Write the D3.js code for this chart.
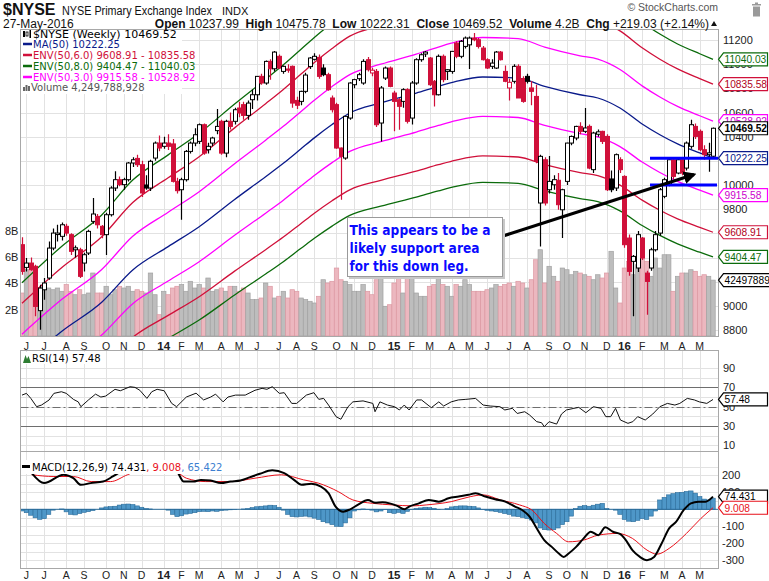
<!DOCTYPE html>
<html>
<head>
<meta charset="utf-8">
<script src="https://cdn.jsdelivr.net/npm/d3@7"></script>
<style>
  body { margin: 0; background: #fff; }
  svg { font-family: "Liberation Sans", Arial, sans-serif; }
</style>
</head>
<body>
<svg id="chart" width="769" height="581"></svg>
<script>
// weekly bars, week ending 31-May-2013 .. 27-May-2016
var open = [
9506,9318,9354,9327,8960,9133,9230,9478,9590,9575,
9658,9589,9464,9464,9354,9437,9699,9740,9658,9589,
9754,9975,10044,10003,10044,10182,10220,10168,10000,9975,
10223,10347,10320,10347,10340,10030,9961,10044,10278,10347,
10361,10499,10292,10347,10450,10527,10264,10527,10527,10637,
10665,10576,10706,10747,10899,10844,11023,10962,11065,10940,
10960,10982,10700,10692,10775,10980,11040,11056,10968,10913,
10720,10665,10306,10223,10554,10830,10880,10844,11037,10927,
10940,10513,10885,10968,10761,10706,10692,10789,10554,10844,
11037,11084,11051,10858,10747,11065,10940,10940,11175,11065,
11147,11160,11216,11202,11133,11037,10982,10968,11100,10940,
10803,10858,10982,10880,10899,10803,10733,9851,10209,9961,
10002,10039,9795,10030,10347,10389,10485,10444,10485,10127,
10420,10444,10402,10050,9975,10209,10071,9561,9368,9313,
9561,9271,9313,9464,9602,9906,10002,10209,10099,10209,
10140,10320,10485,10444,10292,10251,10237.99];

var high = [
9567,9396,9400,9340,9175,9230,9533,9640,9671,9690,
9680,9600,9500,9480,9440,9630,9892,9760,9670,9770,
9990,10113,10070,10060,10190,10230,10250,10200,10080,10210,
10360,10410,10400,10420,10380,10060,10060,10290,10360,10470,
10510,10510,10350,10400,10630,10540,10540,10600,10640,10690,
10690,10700,10790,10900,10920,11030,11040,11110,11080,10990,
11000,10990,10730,10780,10930,11060,11090,11080,11000,10930,
10740,10680,10310,10570,10850,10880,10930,11040,11060,10970,
10960,10820,10980,10980,10780,10720,10800,10800,10860,11050,
11090,11110,11060,10870,11080,11080,10960,11110,11190,11200,
11230,11230,11258,11216,11150,11050,11040,11110,11110,10990,
10880,11000,11000,10900,10920,10860,10830,10250,10230,10240,
10080,10100,9970,10350,10410,10490,10520,10637,10500,10440,
10460,10450,10420,10120,10260,10230,10080,9590,9420,9620,
9570,9290,9480,9620,9975,10060,10220,10220,10230,10230,
10360,10540,10510,10460,10330,10350,10475.78];

var low = [
9258,9285,9290,8913,8802,9050,9216,9460,9533,9540,
9580,9420,9400,9230,9285,9420,9680,9640,9560,9420,
9740,9950,9990,9960,10030,10150,10150,9900,9960,9950,
10200,10280,10300,10290,10020,9930,9713,10030,10260,10320,
10340,10250,10260,10320,10420,10250,10230,10460,10500,10560,
10540,10540,10630,10700,10830,10830,10872,10940,10960,10920,
10930,10640,10630,10660,10760,10960,11030,10880,10900,10780,
10600,10300,9878,10210,10540,10800,10860,10830,10940,10900,
10480,10361,10870,10810,10444,10458,10640,10510,10500,10830,
11020,11060,10820,10650,10740,10850,10870,10920,11050,11050,
11130,10960,11190,11130,11030,10960,10960,10960,11030,10850,
10700,10840,10720,10680,10840,10660,10180,9492,9830,9930,
9960,9795,9561,10000,10330,10370,10420,10430,10130,10100,
10400,10340,9950,9940,9950,10100,9480,9250,8913,9280,
9380,8926,9290,9450,9580,9890,9990,10050,10090,10080,
10120,10300,10380,10280,10210,10110,10222.31];

var close = [
9285,9354,9299,8995,9147,9189,9478,9602,9602,9671,
9602,9451,9480,9244,9423,9616,9760,9671,9589,9754,
9975,10044,10003,10044,10182,10209,10168,9934,9975,10196,
10347,10306,10347,10320,10030,9953,10044,10278,10347,10416,
10499,10264,10320,10389,10485,10264,10527,10485,10623,10596,
10576,10678,10747,10899,10844,11023,10962,11100,10968,10982,
10950,10678,10660,10775,10910,11051,11065,10899,10913,10789,
10623,10306,10237,10568,10844,10872,10913,11023,10954,10950,
10499,10803,10968,10816,10692,10651,10789,10527,10844,11037,
11078,11100,10830,10747,11065,10872,10954,11106,11065,11189,
11216,11216,11202,11147,11037,10968,11009,11100,11037,10858,
10850,10982,10720,10692,10858,10775,10196,10237,9851,10030,
10044,9837,9961,10347,10402,10485,10444,10472,10140,10430,
10440,10361,9961,9961,10251,10127,9506,9285,9409,9589,
9396,9202,9464,9589,9961,10044,10209,10071,10209,10099,
10347,10499,10402,10292,10251,10266,10469.52];

// volume, billions of shares
var volume = [
3.27,5.04,5.04,3.65,3.65,3.91,3.65,3.52,3.65,3.40,
3.91,3.40,3.14,3.52,3.14,3.27,4.79,3.27,3.27,3.78,
3.14,3.52,3.78,3.65,3.78,3.40,3.52,3.40,3.27,4.79,
3.14,1.62,3.40,3.14,3.65,3.78,3.91,3.40,4.16,3.65,
3.91,3.65,4.41,3.40,3.52,3.65,3.40,3.78,3.78,3.40,
3.65,3.27,2.77,2.77,2.89,4.03,3.78,2.89,3.02,3.40,
2.89,3.52,3.40,2.89,2.77,2.64,2.51,3.02,4.28,4.03,
4.16,5.17,4.28,4.16,3.91,3.40,3.40,3.91,3.40,3.14,
4.28,4.66,2.26,2.38,4.03,4.41,3.27,4.41,4.41,3.27,
3.02,3.02,3.78,3.91,4.41,3.91,3.78,3.02,3.91,3.78,
4.28,3.91,3.40,3.40,3.40,3.52,3.65,3.91,3.78,3.91,
4.03,3.78,4.16,4.03,3.65,4.28,5.80,6.56,4.03,5.30,
4.54,4.16,5.17,5.04,4.66,4.92,4.79,4.66,4.54,4.28,
4.66,4.41,4.79,6.44,3.65,2.51,5.17,5.68,4.66,5.42,
5.93,5.68,4.54,5.93,5.17,6.18,6.18,3.40,4.54,4.79,
4.79,5.04,4.92,4.54,4.66,4.54,4.249788928];

// MA(50): [bar, value]
var ma50 = [[0,8510],[9,8790],[18,9030],[25,9297],[33,9490],[40,9655],[48,9880],
  [55,10069],[59,10180],[63,10300],[66,10390],[70,10500],[74,10596],[81,10679],
  [89,10761],[94,10817],[98,10858],[104,10894],[112,10885],[118,10817],[126,10747],
  [130,10720],[135,10637],[140,10505],[144,10416],[148,10340],[153,10265],[156,10222.25]];

var envelopes = [
  {pct: 8, color: "#0b6b0b"},
  {pct: 6, color: "#d0103a"},
  {pct: 3, color: "#ff00ff"}
];

// RSI(14): [bar, value]
var rsi = [[0,62],[1,63.8],[2,58.6],[3.3,50],[4.4,51.7],[6.1,56.9],[7.2,63.8],[8.9,65.5],[10,63.8],
  [11.6,57.6],[12.7,55],[13.3,50],[15,57],[16.6,63],[17.8,60],[18.9,61],[21,68],[22.2,66.5],
  [24.4,70.7],[25.5,70],[26.6,67],[28.2,58.6],[29.3,65.5],[30.5,68],[32.1,66.5],[33.8,53.4],
  [34.9,50],[37.1,60],[39.3,64],[41,57],[42.6,60],[43.7,63],[45.4,55],[46.5,60],[48.2,62],
  [50.4,62],[52.6,67],[54.2,69],[55.3,68],[56.5,70.7],[58.1,63.8],[59.2,64.5],[60.9,53.4],
  [62,53.4],[64.2,62],[65.9,64.5],[67,57.6],[68.1,58.6],[69.2,51.7],[70.9,39.7],[72,37],
  [73.6,50],[74.7,55],[77,56],[79.2,53.4],[79.7,44.8],[80.8,55],[82.5,51.7],[84.1,50],
  [85.2,46.6],[86.3,51.7],[87.4,46.6],[89.1,57],[90.2,57],[92.4,49],[94.1,55],[95.2,50.7],
  [96.9,55],[98.5,57],[100.2,57.6],[102.4,58.6],[104.1,51.7],[105.7,50.7],[107.9,50],
  [109,46.6],[110.7,48.3],[111.8,43],[113.5,44.8],[114.6,41.4],[116.2,34.5],[117.3,33.4],
  [117.9,29.3],[119,34.5],[120.7,32],[121.8,42.4],[122.9,46.6],[124.6,48.3],[125.7,49.3],
  [127.3,43.8],[129,50],[130.7,48.3],[131.8,39.7],[132.9,39.7],[134,48.3],[135.1,36.2],
  [136.8,32.8],[137.9,34.5],[139,39.7],[140.7,36.2],[142.4,42.4],[144,50],[145.7,53.4],
  [147.4,51.7],[148.5,53.4],[150.2,58.6],[151.8,57],[152.9,55],[154.6,53.4],[156,57.48]];

// MACD(12,26,9): [bar, value]
var macdLine = [[2.2,213],[5,154],[9.4,203],[11.6,183],[13.3,144],[15.5,154],[18.3,163],
  [20.5,193],[22.7,229],[24,250],[28,272],[32,260],[35,222],[36.5,163],[38.7,163],[40.4,173],
  [42.6,169],[44.9,154],[47.1,163],[49.3,169],[51.5,189],[53.7,209],[56.5,229],[59.2,213],
  [61.4,173],[63.1,144],[65.3,150],[67.5,134],[69.2,95],[70.8,16],[72.5,-14],[74.1,0],
  [75.8,26],[78.1,55],[79.7,39],[81.4,41],[83,35],[84.7,20],[86.3,0],[87.4,16],[89.6,35],
  [91.8,55],[94.1,45],[96.3,65],[98.6,75],[100.8,85],[102.4,95],[104.6,75],[106.8,59],
  [109.1,45],[111.3,16],[112.9,-4],[114.6,-43],[116.2,-112],[117.9,-181],[119.6,-221],
  [121.2,-260],[122.3,-280],[123.4,-260],[125.1,-221],[126.8,-171],[128.4,-132],[130.1,-152],
  [131.7,-106],[133.4,-132],[135.1,-146],[136.2,-177],[137.8,-240],[139.5,-280],[141.1,-299],
  [142.7,-280],[144.4,-201],[146.1,-112],[147.7,-73],[149.4,-4],[151,35],[152.7,45],
  [154.3,45],[156,74.431]];

var signalLine = [[2.2,203],[7.2,193],[11.6,193],[15.6,163],[20,163],[23.8,203],[26,223],
  [35,213],[37.1,183],[41.5,163],[47.1,163],[52.6,183],[58.6,203],[63.6,173],[66.9,154],
  [71.4,104],[74.7,55],[79.2,35],[83.6,26],[88.1,20],[91.4,26],[96.9,45],[101.3,75],
  [104.1,85],[108,55],[112.3,26],[115.1,-4],[117.9,-83],[120.7,-142],[123.4,-191],
  [126.8,-181],[130.1,-152],[134.5,-142],[137.8,-171],[141.1,-240],[143.4,-264],
  [146.1,-230],[150,-142],[153.3,-53],[156,9.008]];

var histogram = [
-10,-20,-35,-50,-59,-55,-30,-5,0,2,
-15,-30,-33,-25,-18,-14,-8,0,8,14,
16,18,25,30,31,28,20,12,5,2,
0,0,0,-5,-30,-43,-38,-28,-24,-20,
-14,-12,-14,-10,-12,-8,-5,-3,-2,0,
2,5,10,15,18,20,24,22,12,-5,
-30,-43,-45,-42,-40,-45,-52,-60,-73,-80,
-90,-100,-102,-80,-50,-10,-3,2,-2,-5,
-15,-10,-2,-20,-24,-18,-24,-12,-2,5,
8,12,10,6,-2,0,4,14,18,20,
20,18,16,8,-2,-6,-10,-14,-18,-25,
-30,-40,-43,-48,-55,-63,-80,-110,-120,-122,
-120,-110,-90,-73,-40,5,18,22,18,24,
30,35,5,0,-5,-30,-60,-70,-73,-65,
-55,-60,-40,-10,55,70,85,92,98,100,
105,108,95,75,60,55,65.422];

var priceTicks = d3.range(8800, 11201, 200);
var volTicks = [2, 4, 6, 8];
var rsiTicks = [10, 30, 50, 70, 90];
var macdTicks = [-300, -200, -100, 100, 200];
var monthLetters = "JFMAMJJASOND";

var svg = d3.select("#chart");
var RED = "#d0103a", GREEN = "#0b6b0b", MAG = "#ff00ff", NAVY = "#0a1a8a";

var x = d3.scaleLinear().domain([0, 156]).range([22, 713]);
var yP = d3.scaleLinear().domain([8800, 11200]).range([330, 40]);
var yV = d3.scaleLinear().domain([0, 8]).range([336, 230.8]);
var yR = d3.scaleLinear().domain([0, 100]).range([455, 358.4]);
var yM = d3.scaleLinear().domain([-300, 200]).range([560.3, 475.3]);

var L = 20.5, R = 718.5;
var panels = {
  main: {top: 29.5, bottom: 336.5},
  rsi: {top: 350.5, bottom: 451.5},
  macd: {top: 451.5, bottom: 568.5}
};

var dates = d3.timeFriday.range(new Date(2013, 4, 31), new Date(2016, 4, 28));
// month ticks: first bar whose week starts in a new month
var ticks = [];
dates.forEach(function (d, i) {
  if (i === 0) return;
  var m0 = d3.timeDay.offset(dates[i - 1], -4).getMonth();
  var m1 = d3.timeDay.offset(d, -4);
  if (m1.getMonth() !== m0) ticks.push({i: i, date: m1});
});

var defs = svg.append("defs");
Object.keys(panels).forEach(function (k) {
  var p = panels[k];
  defs.append("clipPath").attr("id", "clip-" + k)
    .append("rect").attr("x", L).attr("y", p.top).attr("width", R - L).attr("height", p.bottom - p.top);
});
defs.append("marker").attr("id", "arrowhead").attr("viewBox", "0 0 10 10")
  .attr("refX", 8).attr("refY", 5).attr("markerWidth", 4).attr("markerHeight", 4)
  .attr("orient", "auto")
  .append("path").attr("d", "M0,0 L10,5 L0,10 z").attr("fill", "#000");

// panel frames + grids
Object.keys(panels).forEach(function (k) {
  var p = panels[k];
  var g = svg.append("g").attr("shape-rendering", "crispEdges");
  g.append("rect").attr("x", L).attr("y", p.top).attr("width", R - L).attr("height", p.bottom - p.top)
    .attr("fill", "#fff");
  g.selectAll(".vg").data(ticks).enter().append("line")
    .attr("x1", function (d) { return Math.round(x(d.i)) + 0.5; })
    .attr("x2", function (d) { return Math.round(x(d.i)) + 0.5; })
    .attr("y1", p.top).attr("y2", p.bottom).attr("stroke", "#e2e2e2");
  var hs = k === "main" ? priceTicks.map(yP) :
           k === "rsi" ? d3.range(10, 100, 10).map(yR) :
           d3.range(-300, 251, 50).map(yM);
  g.selectAll(".hg").data(hs).enter().append("line")
    .attr("x1", L).attr("x2", R)
    .attr("y1", function (d) { return Math.round(d) + 0.5; })
    .attr("y2", function (d) { return Math.round(d) + 0.5; })
    .attr("stroke", "#e2e2e2");
});

var bars = d3.range(close.length).map(function (i) {
  return {i: i, o: open[i], h: high[i], l: low[i], c: close[i], v: volume[i],
    up: i ? close[i] >= close[i - 1] : close[i] >= open[i]};
});

// ---- main panel ----
var main = svg.append("g").attr("clip-path", "url(#clip-main)");

main.append("g").selectAll("rect").data(bars).enter().append("rect")
  .attr("x", function (d) { return x(d.i) - 2.2; })
  .attr("width", 4.43)
  .attr("y", function (d) { return yV(d.v); })
  .attr("height", function (d) { return yV(0) - yV(d.v); })
  .attr("fill", function (d) { return d.up ? "#bdbdbd" : "#ecb7bf"; })
  .attr("stroke", function (d) { return d.up ? "#a2a2a2" : "#dc98a2"; })
  .attr("stroke-width", 0.7);

var curve = d3.line().curve(d3.curveMonotoneX)
  .x(function (d) { return x(d[0]); }).y(function (d) { return yP(d[1]); });

envelopes.forEach(function (e) {
  [1 + e.pct / 100, 1 - e.pct / 100].forEach(function (f) {
    main.append("path")
      .attr("d", curve(ma50.map(function (d) { return [d[0], d[1] * f]; })))
      .attr("fill", "none").attr("stroke", e.color).attr("stroke-width", 1.3);
  });
});
main.append("path").attr("d", curve(ma50))
  .attr("fill", "none").attr("stroke", NAVY).attr("stroke-width", 1.3);

var cg = main.append("g").selectAll("g").data(bars).enter().append("g");
cg.append("line")
  .attr("x1", function (d) { return Math.round(x(d.i)) + 0.5; })
  .attr("x2", function (d) { return Math.round(x(d.i)) + 0.5; })
  .attr("y1", function (d) { return yP(d.h); })
  .attr("y2", function (d) { return yP(d.l); })
  .attr("stroke", function (d) { return d.up ? "#000" : RED; })
  .attr("stroke-width", 1.2);
cg.append("rect")
  .attr("x", function (d) { return Math.round(x(d.i)) - 1.5; })
  .attr("width", 4)
  .attr("y", function (d) { return yP(Math.max(d.o, d.c)); })
  .attr("height", function (d) { return Math.max(1, Math.abs(yP(d.o) - yP(d.c))); })
  .attr("fill", function (d) { return d.c >= d.o ? "#fff" : (d.up ? "#000" : RED); })
  .attr("stroke", function (d) { return d.up ? "#000" : RED; })
  .attr("stroke-width", 1);

// annotations
var ann = svg.append("g");
[10222.25, 10000].forEach(function (v, k) {
  ann.append("line").attr("x1", 650).attr("x2", k ? 717 : 719)
    .attr("y1", yP(v)).attr("y2", yP(v))
    .attr("stroke", "#0000ff").attr("stroke-width", 3);
});
ann.append("line").attr("x1", 503).attr("y1", 236).attr("x2", 694).attr("y2", 174.5)
  .attr("stroke", "#000").attr("stroke-width", 3.2).attr("marker-end", "url(#arrowhead)");
ann.append("rect").attr("x", 349).attr("y", 219).attr("width", 156).attr("height", 60)
  .attr("fill", "#c8c8c8");
ann.append("rect").attr("x", 347.5).attr("y", 217.5).attr("width", 155).attr("height", 59)
  .attr("fill", "#fff").attr("stroke", "#9a9a9a");
var noteLines = ["This appears to be a", "likely support area", "for this down leg."];
var noteWidths = [141, 130, 119];
noteLines.forEach(function (t, k) {
  ann.append("text").attr("x", 349.5).attr("y", 234.5 + k * 18)
    .attr("font-family", "'DejaVu Sans', Verdana, sans-serif").attr("font-weight", "bold")
    .attr("font-size", 13.5).attr("fill", "#0a0aff")
    .attr("textLength", noteWidths[k]).attr("lengthAdjust", "spacingAndGlyphs")
    .text(t);
});

// main legend
var lg = svg.append("g").attr("font-family", "'DejaVu Sans', Verdana, sans-serif");
lg.append("rect").attr("x", 21).attr("y", 30).attr("width", 161).attr("height", 64).attr("fill", "#fff");
// candle icon
lg.append("rect").attr("x", 23).attr("y", 31).attr("width", 2).attr("height", 6).attr("fill", "#000");
lg.append("rect").attr("x", 26).attr("y", 32).attr("width", 2).attr("height", 4).attr("fill", "none").attr("stroke", "#000").attr("stroke-width", 0.8);
lg.append("rect").attr("x", 29.5).attr("y", 30).attr("width", 1.5).attr("height", 8).attr("fill", "#000");
lg.append("text").attr("x", 33).attr("y", 37.5).attr("font-size", 11).attr("fill", "#000")
  .text("$NYSE (Weekly) 10469.52");
var legendRows = [
  {t: "MA(50) 10222.25", c: NAVY},
  {t: "ENV(50,6.0) 9608.91 - 10835.58", c: RED},
  {t: "ENV(50,8.0) 9404.47 - 11040.03", c: GREEN},
  {t: "ENV(50,3.0) 9915.58 - 10528.92", c: MAG}
];
legendRows.forEach(function (r, k) {
  var yy = 47.5 + k * 11;
  lg.append("line").attr("x1", 23).attr("x2", 32).attr("y1", yy - 3.5).attr("y2", yy - 3.5)
    .attr("stroke", r.c).attr("stroke-width", 2.5);
  lg.append("text").attr("x", 33).attr("y", yy).attr("font-size", 10).attr("fill", r.c).text(r.t);
});
[[23, 4], [25.5, 6], [28, 5]].forEach(function (b) {
  lg.append("rect").attr("x", b[0]).attr("y", 91 - b[1]).attr("width", 2).attr("height", b[1]).attr("fill", "#666");
});
lg.append("text").attr("x", 31).attr("y", 91).attr("font-size", 10).attr("fill", "#555")
  .text("Volume 4,249,788,928");

// ---- RSI panel ----
var rg = svg.append("g").attr("clip-path", "url(#clip-rsi)");
[70, 30].forEach(function (v) {
  rg.append("line").attr("x1", L).attr("x2", R).attr("y1", Math.round(yR(v)) + 0.5).attr("y2", Math.round(yR(v)) + 0.5)
    .attr("stroke", "#6e6e6e").attr("stroke-width", 1.2);
});
rg.append("line").attr("x1", L).attr("x2", R).attr("y1", Math.round(yR(50)) + 0.5).attr("y2", Math.round(yR(50)) + 0.5)
  .attr("stroke", "#6e6e6e").attr("stroke-dasharray", "8,3,2,3");
rg.append("path")
  .attr("d", d3.line().x(function (d) { return x(d[0]); }).y(function (d) { return yR(d[1]); })(rsi))
  .attr("fill", "none").attr("stroke", "#111").attr("stroke-width", 1);
rg.append("rect").attr("x", 21).attr("y", 352).attr("width", 80).attr("height", 12).attr("fill", "#fff");
rg.append("path").attr("d", "M23,363 L25.5,355 L27,359 L28.5,356 L31,363 Z").attr("fill", "#2e7d32");
rg.append("text").attr("x", 32).attr("y", 361.5).attr("font-family", "'DejaVu Sans', Verdana, sans-serif")
  .attr("font-size", 10).text("RSI(14) 57.48");

// ---- MACD panel ----
var mg = svg.append("g").attr("clip-path", "url(#clip-macd)");
mg.append("g").selectAll("rect").data(histogram).enter().append("rect")
  .attr("x", function (d, i) { return x(i) - 2.2; })
  .attr("width", 4.43)
  .attr("y", function (d) { return Math.min(yM(d), yM(0)); })
  .attr("height", function (d) { return Math.abs(yM(d) - yM(0)); })
  .attr("fill", "#4e97c8").attr("stroke", "#2a6c9a").attr("stroke-width", 0.6);
mg.append("line").attr("x1", L).attr("x2", R).attr("y1", yM(0)).attr("y2", yM(0))
  .attr("stroke", "#2a6c9a").attr("stroke-width", 1);
var mline = d3.line().curve(d3.curveMonotoneX)
  .x(function (d) { return x(d[0]); }).y(function (d) { return yM(d[1]); });
mg.append("path").attr("d", mline(signalLine)).attr("fill", "none").attr("stroke", "#e8101a").attr("stroke-width", 1);
mg.append("path").attr("d", mline(macdLine)).attr("fill", "none").attr("stroke", "#000").attr("stroke-width", 2);
mg.append("rect").attr("x", 21).attr("y", 460).attr("width", 235).attr("height", 14).attr("fill", "#fff");
mg.append("line").attr("x1", 22).attr("x2", 30).attr("y1", 466.5).attr("y2", 466.5).attr("stroke", "#000").attr("stroke-width", 3);
var mt = mg.append("text").attr("x", 32).attr("y", 470.5)
  .attr("font-family", "'DejaVu Sans', Verdana, sans-serif").attr("font-size", 10);
mt.append("tspan").attr("fill", "#000").text("MACD(12,26,9) 74.431");
mt.append("tspan").attr("fill", "#e8101a").text(", 9.008");
mt.append("tspan").attr("fill", "#3d7fd0").text(", 65.422");

// panel borders
Object.keys(panels).forEach(function (k) {
  var p = panels[k];
  svg.append("rect").attr("x", L).attr("y", p.top).attr("width", R - L).attr("height", p.bottom - p.top)
    .attr("fill", "none").attr("stroke", "#a8a8a8").attr("shape-rendering", "crispEdges");
});

// ---- axes labels ----
var ax = svg.append("g").attr("font-size", 11).attr("fill", "#222");
ax.selectAll(".pt").data(priceTicks).enter().append("text")
  .attr("x", 723).attr("y", function (d) { return yP(d) + 4; }).text(function (d) { return d; });
ax.selectAll(".vt").data(volTicks).enter().append("text")
  .attr("x", 5).attr("y", function (d) { return yV(d) + 4; }).text(function (d) { return d + "B"; });
ax.selectAll(".rt").data(rsiTicks).enter().append("text")
  .attr("x", 723).attr("y", function (d) { return yR(d) + 4; }).text(function (d) { return d; });
ax.selectAll(".mt").data(macdTicks).enter().append("text")
  .attr("x", 722).attr("y", function (d) { return yM(d) + 4; }).text(function (d) { return d; });

[349.5, 579].forEach(function (yy) {
  ax.selectAll(null).data(ticks).enter().append("text")
    .attr("x", function (d) { return x(d.i); })
    .attr("y", yy).attr("text-anchor", "middle")
    .attr("font-weight", function (d) { return d.date.getMonth() === 0 ? "bold" : "normal"; })
    .attr("font-size", function (d) { return d.date.getMonth() === 0 ? 11.5 : 10.5; })
    .text(function (d) {
      return d.date.getMonth() === 0 ? String(d.date.getFullYear()).slice(2) : monthLetters[d.date.getMonth()];
    });
});

// value tags on right axis
function tag(y, label, border, color, bold, wide) {
  var g = svg.append("g");
  var h = 6.5, x0 = 718.5, x1 = 723.5, x2 = wide ? 772 : 767.5;
  g.append("path")
    .attr("d", "M" + x0 + "," + y + " L" + x1 + "," + (y - h) + " L" + x2 + "," + (y - h) +
      " L" + x2 + "," + (y + h) + " L" + x1 + "," + (y + h) + " Z")
    .attr("fill", "#fff").attr("stroke", border).attr("stroke-width", 1.2);
  g.append("text").attr("x", 724.5).attr("y", y + 3.8).attr("font-size", 10.2)
    .attr("font-weight", bold ? "bold" : "normal").attr("fill", color).text(label);
}
tag(yP(11040.03), "11040.03", GREEN, GREEN);
tag(yP(10835.58), "10835.58", RED, "#b00020");
tag(yP(10528.92), "10528.92", MAG, "#cc00cc");
tag(yP(10222.25), "10222.25", NAVY, NAVY);
tag(yP(9915.58), "9915.58", MAG, "#cc00cc");
tag(yP(9608.91), "9608.91", RED, "#b00020");
tag(yP(9404.47), "9404.47", GREEN, GREEN);
tag(yV(4.249788928), "42497889", "#000", "#000", false, true);
tag(yP(10469.52), "10469.52", "#000", "#000", true);
tag(yR(57.48), "57.48", "#000", "#000");
tag(yM(74.431), "74.431", "#000", "#000");
tag(yM(9.008), "9.008", "#e8101a", "#e8101a");

// ---- header ----
var hd = svg.append("g").attr("fill", "#111");
hd.append("text").attr("x", 3).attr("y", 15).attr("font-size", 16).attr("font-weight", "bold").text("$NYSE");
hd.append("text").attr("x", 62).attr("y", 15).attr("font-size", 12)
  .attr("textLength", 150).attr("lengthAdjust", "spacingAndGlyphs").text("NYSE Primary Exchange Index");
hd.append("text").attr("x", 222).attr("y", 15).attr("font-size", 11).text("INDX");
hd.append("text").attr("x", 3).attr("y", 28).attr("font-size", 12).text("27-May-2016");
var info = hd.append("text").attr("x", 709).attr("y", 28).attr("text-anchor", "end").attr("font-size", 12);
[["Open", " 10237.99  "], ["High", " 10475.78  "], ["Low", " 10222.31  "], ["Close", " 10469.52  "],
 ["Volume", " 4.2B  "], ["Chg", " +219.03 (+2.14%)"]].forEach(function (p) {
  info.append("tspan").attr("font-weight", "bold").text(p[0]);
  info.append("tspan").attr("xml:space", "preserve").text(p[1]);
});
hd.append("path").attr("d", "M711,26 L714,21 L717,26 Z").attr("fill", "#111");
hd.append("text").attr("x", 718).attr("y", 11).attr("text-anchor", "end").attr("font-size", 10.5)
  .attr("fill", "#555").text("\u00a9 StockCharts.com");
// trash icon
var tr = svg.append("g").attr("fill", "#9a9a9a");
tr.append("rect").attr("x", 752).attr("y", 4).attr("width", 9).attr("height", 1.5);
tr.append("rect").attr("x", 755).attr("y", 2.5).attr("width", 3).attr("height", 1.5);
tr.append("rect").attr("x", 753).attr("y", 6.5).attr("width", 7).attr("height", 10);
</script>
</body>
</html>
